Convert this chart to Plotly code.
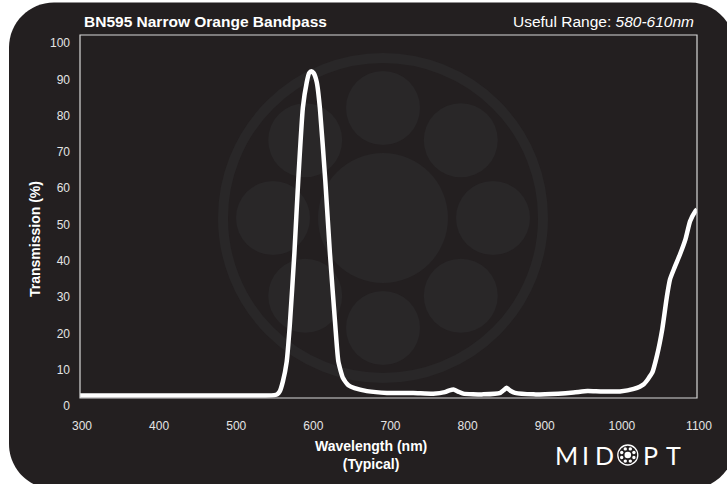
import math
import plotly.graph_objects as go

# ---------------- data ----------------
wavelength = [300, 350, 400, 450, 500, 540, 552, 556, 559, 563, 568, 572, 578, 583, 589, 594,
              597, 600, 603, 607, 611, 618, 624, 631, 635, 641, 648, 656, 672, 698, 732, 758,
              773, 779, 785, 791, 797, 823, 845, 849, 853, 858, 864, 888, 920, 940, 958, 975,
              1000, 1018, 1031, 1042, 1048, 1055, 1061, 1065, 1071, 1078, 1085, 1091, 1098, 1100]
transmission = [0.7, 0.7, 0.7, 0.7, 0.7, 0.7, 0.8, 1.1, 1.8, 4.5, 10, 20, 40, 60, 80, 87,
                89.5, 90, 89.5, 87, 80, 60, 40, 20, 10, 5.5, 3.5, 2.7, 1.9, 1.4, 1.4, 1.2,
                1.6, 2.1, 2.3, 1.7, 1.2, 1.0, 1.4, 2.1, 2.8, 2.0, 1.4, 1.0, 1.2, 1.5, 1.9, 1.8,
                1.8, 2.5, 3.8, 7, 11.6, 19, 28, 32.7, 36, 39.6, 43.7, 48.7, 51.5, 52]
x_ticks = [300, 400, 500, 600, 700, 800, 900, 1000, 1100]
y_ticks = [0, 10, 20, 30, 40, 50, 60, 70, 80, 90, 100]

title_text = "BN595 Narrow Orange Bandpass"
range_label = "Useful Range: "
range_value = "580-610nm"
x_title = "Wavelength (nm)"
x_subtitle = "(Typical)"
y_title = "Transmission (%)"
brand_letters = ["M", "I", "D", "P", "T"]

# ---------------- layout helpers ----------------
W, H = 727, 484
L, R, T, B = 80, 30, 35, 86
PW, PH = W - L - R, H - T - B


def px(xp):
    return (xp - L) / PW


def py(yp):
    return (H - B - yp) / PH


BG = "#231f20"
WM = "#292728"
FONT = "Liberation Sans, Arial, Helvetica, sans-serif"

shapes = []

# rounded dark card
l0, t0, r0, b0, rad = 9, 2.5, 735, 489, 45
k = 0.5523 * rad


def P(x, y):
    return f"{px(x):.5f},{py(y):.5f}"


path = (f"M {P(l0 + rad, t0)} L {P(r0 - rad, t0)} "
        f"C {P(r0 - rad + k, t0)} {P(r0, t0 + rad - k)} {P(r0, t0 + rad)} "
        f"L {P(r0, b0 - rad)} "
        f"C {P(r0, b0 - rad + k)} {P(r0 - rad + k, b0)} {P(r0 - rad, b0)} "
        f"L {P(l0 + rad, b0)} "
        f"C {P(l0 + rad - k, b0)} {P(l0, b0 - rad + k)} {P(l0, b0 - rad)} "
        f"L {P(l0, t0 + rad)} "
        f"C {P(l0, t0 + rad - k)} {P(l0 + rad - k, t0)} {P(l0 + rad, t0)} Z")
shapes.append(dict(type="path", path=path, xref="paper", yref="paper",
                   fillcolor=BG, line=dict(width=0), layer="below"))


def circle(cx, cy, r, fill=None, line_color=None, line_width=0, layer="below"):
    return dict(type="circle", xref="paper", yref="paper",
                x0=px(cx - r), x1=px(cx + r), y0=py(cy + r), y1=py(cy - r),
                fillcolor=fill if fill else "rgba(0,0,0,0)",
                line=dict(color=line_color if line_color else "rgba(0,0,0,0)",
                          width=line_width),
                layer=layer)


# watermark
wcx, wcy = 383, 218
shapes.append(circle(wcx, wcy, 160, line_color=WM, line_width=10))
shapes.append(circle(wcx, wcy, 65, fill=WM))
for i in range(8):
    a = math.radians(i * 45)
    shapes.append(circle(wcx + 110 * math.cos(a), wcy + 110 * math.sin(a), 37, fill=WM))

# plot frame
shapes.append(dict(type="rect", xref="paper", yref="paper", x0=0, x1=1, y0=0, y1=1,
                   line=dict(color="#d8d8d8", width=1.2), fillcolor="rgba(0,0,0,0)",
                   layer="above"))

# brand logo ring
lcx, lcy = 627.8, 455
shapes.append(circle(lcx, lcy, 10, line_color="white", line_width=1.3, layer="above"))
shapes.append(circle(lcx, lcy, 3.3, fill="white", layer="above"))
for i in range(8):
    a = math.radians(i * 45 + 22.5)
    shapes.append(circle(lcx + 6.6 * math.cos(a), lcy + 6.6 * math.sin(a), 1.7,
                         fill="white", layer="above"))

annotations = [
    dict(text=f"<b>{title_text}</b>", x=px(82), y=py(22), xanchor="left", yanchor="middle",
         font=dict(size=15.5, color="white", family=FONT)),
    dict(text=f"{range_label}<i>{range_value}</i>", x=px(696), y=py(22), xanchor="right",
         yanchor="middle", font=dict(size=15.5, color="white", family=FONT)),
    dict(text=f"<b>{x_title}<br>{x_subtitle}</b>", x=px(371), y=py(454.5), xanchor="center",
         yanchor="middle", font=dict(size=14, color="white", family=FONT)),
    dict(text=f"<b>{y_title}</b>", x=px(35), y=py(239), xanchor="center", yanchor="middle",
         textangle=-90, font=dict(size=14, color="white", family=FONT)),
]
letter_x = [566.5, 585, 604, 650.3, 673]
for ch, lx in zip(brand_letters, letter_x):
    annotations.append(dict(text=ch, x=px(lx), y=py(455), xanchor="center", yanchor="middle",
                            font=dict(size=25, color="white", family="Lato, DejaVu Sans, sans-serif",
                                      weight=400)))
for a in annotations:
    a.update(xref="paper", yref="paper", showarrow=False)

fig = go.Figure(go.Scatter(x=wavelength, y=transmission, mode="lines",
                           line=dict(color="white", width=4.5, shape="spline", smoothing=0.5),
                           hoverinfo="skip"))

fig.update_layout(
    width=W, height=H, margin=dict(l=L, r=R, t=T, b=B, pad=0),
    paper_bgcolor="white", plot_bgcolor="rgba(0,0,0,0)",
    showlegend=False, shapes=shapes, annotations=annotations,
    xaxis=dict(range=[300, 1100], tickvals=x_ticks, showgrid=False, zeroline=False,
               showline=False, ticks="", ticklabelstandoff=19, ticklabelshift=2,
               tickfont=dict(size=12, color="#e4e4e4", family=FONT), fixedrange=True),
    yaxis=dict(range=[0, 100], tickvals=y_ticks, showgrid=False, zeroline=False,
               showline=False, ticks="", ticklabelstandoff=9, ticklabelshift=8,
               tickfont=dict(size=12, color="#e4e4e4", family=FONT), fixedrange=True),
)

fig.write_html("out.html", config={"displayModeBar": False, "staticPlot": True})

with open("out.html", "r", encoding="utf-8") as f:
    html = f.read()
html = html.replace("<head>", "<head><style>html,body{margin:0;padding:0;}</style>", 1)
with open("out.html", "w", encoding="utf-8") as f:
    f.write(html)
